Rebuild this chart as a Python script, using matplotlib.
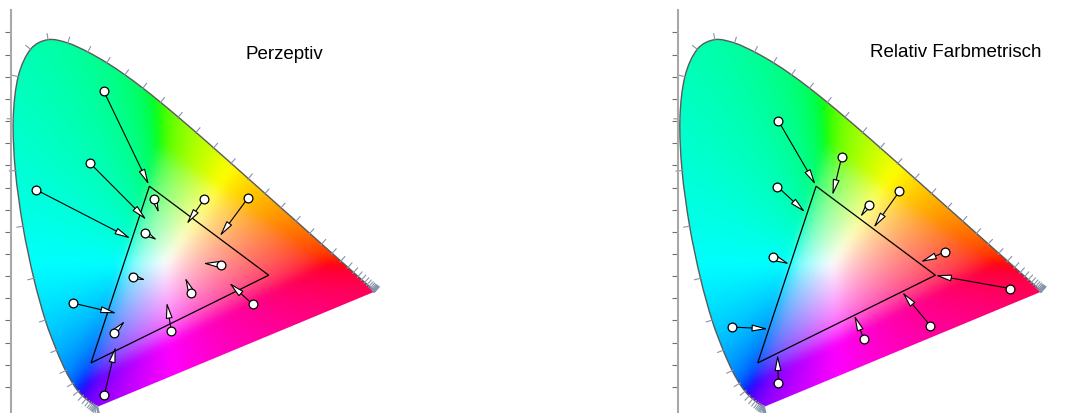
import numpy as np
import matplotlib.pyplot as plt
from matplotlib.path import Path
from matplotlib.patches import PathPatch

# CIE 1931 2-degree spectral locus, 380-700 nm in 5 nm steps
wavelengths = np.arange(380, 705, 5)
locus_x = [0.1741, 0.1740, 0.1738, 0.1736, 0.1733, 0.1730, 0.1726, 0.1721, 0.1714, 0.1703,
           0.1689, 0.1669, 0.1644, 0.1611, 0.1566, 0.1510, 0.1440, 0.1355, 0.1241, 0.1096,
           0.0913, 0.0687, 0.0454, 0.0235, 0.0082, 0.0039, 0.0139, 0.0389, 0.0743, 0.1142,
           0.1547, 0.1929, 0.2296, 0.2658, 0.3016, 0.3373, 0.3731, 0.4087, 0.4441, 0.4788,
           0.5125, 0.5448, 0.5752, 0.6029, 0.6270, 0.6482, 0.6658, 0.6801, 0.6915, 0.7006,
           0.7079, 0.7140, 0.7190, 0.7230, 0.7260, 0.7283, 0.7300, 0.7311, 0.7320, 0.7327,
           0.7334, 0.7340, 0.7344, 0.7346, 0.7347]
locus_y = [0.0050, 0.0050, 0.0049, 0.0049, 0.0048, 0.0048, 0.0048, 0.0048, 0.0051, 0.0058,
           0.0069, 0.0086, 0.0109, 0.0138, 0.0177, 0.0227, 0.0297, 0.0399, 0.0578, 0.0868,
           0.1327, 0.2007, 0.2950, 0.4127, 0.5384, 0.6548, 0.7502, 0.8120, 0.8338, 0.8262,
           0.8059, 0.7816, 0.7543, 0.7243, 0.6923, 0.6589, 0.6245, 0.5896, 0.5547, 0.5202,
           0.4866, 0.4544, 0.4242, 0.3965, 0.3725, 0.3514, 0.3340, 0.3197, 0.3083, 0.2993,
           0.2920, 0.2859, 0.2809, 0.2770, 0.2740, 0.2717, 0.2700, 0.2689, 0.2680, 0.2673,
           0.2666, 0.2660, 0.2656, 0.2654, 0.2653]

# output device gamut (triangle)
gamut_x = [0.279, 0.520, 0.161]
gamut_y = [0.503, 0.302, 0.104]

# perceptual mapping: source colour -> mapped colour
perc_src_x = [0.187, 0.159, 0.050, 0.289, 0.390, 0.478, 0.271, 0.423, 0.245, 0.364, 0.488, 0.125, 0.323, 0.207, 0.188]
perc_src_y = [0.717, 0.555, 0.495, 0.474, 0.474, 0.476, 0.397, 0.326, 0.299, 0.263, 0.236, 0.239, 0.177, 0.172, 0.032]
perc_dst_x = [0.278, 0.273, 0.241, 0.298, 0.354, 0.421, 0.295, 0.387, 0.272, 0.351, 0.440, 0.213, 0.314, 0.230, 0.211]
perc_dst_y = [0.506, 0.427, 0.385, 0.442, 0.417, 0.390, 0.381, 0.329, 0.291, 0.297, 0.285, 0.216, 0.241, 0.199, 0.141]

# relative colorimetric mapping: clipped onto the gamut border
rel_src_x = [0.203, 0.331, 0.201, 0.385, 0.447, 0.539, 0.191, 0.671, 0.110, 0.510, 0.376, 0.203]
rel_src_y = [0.650, 0.570, 0.502, 0.460, 0.491, 0.354, 0.343, 0.272, 0.185, 0.188, 0.157, 0.058]
rel_dst_x = [0.278, 0.312, 0.257, 0.368, 0.395, 0.490, 0.225, 0.520, 0.182, 0.453, 0.356, 0.201]
rel_dst_y = [0.506, 0.482, 0.444, 0.433, 0.409, 0.332, 0.327, 0.302, 0.181, 0.264, 0.212, 0.123]

SX, SY = 495.0, 443.0   # pixels per unit x / y
XMAX, YMIN, YMAX = 0.8, -0.009, 0.9
W, H = 1065, 414


def smooth_locus_path(closed=False):
    # Catmull-Rom through the locus points, as cubic Bezier segments
    p = np.column_stack([locus_x, locus_y])
    ext = np.vstack([p[0], p, p[-1]])
    verts = [p[0]]
    codes = [Path.MOVETO]
    for i in range(len(p) - 1):
        p0, p1, p2, p3 = ext[i], ext[i + 1], ext[i + 2], ext[i + 3]
        verts += [p1 + (p2 - p0) / 6, p2 - (p3 - p1) / 6, p2]
        codes += [Path.CURVE4] * 3
    if closed:
        verts += [p[0], p[0]]
        codes += [Path.LINETO, Path.CLOSEPOLY]
    return Path(np.array(verts), codes)


def blur(img, sigma):
    r = int(3 * sigma)
    k = np.exp(-0.5 * (np.arange(-r, r + 1) / sigma) ** 2)
    k /= k.sum()
    out = img.copy()
    for axis in (0, 1):
        pad = [(0, 0)] * 3
        pad[axis] = (r, r)
        padded = np.pad(out, pad, mode='edge')
        out = np.apply_along_axis(lambda v: np.convolve(v, k, mode='valid'), axis, padded)
    return out


def chromaticity_image(nx=400, ny=440):
    xs = np.linspace(0.0, XMAX, nx)
    ys = np.linspace(0.001, YMAX, ny)
    xx, yy = np.meshgrid(xs, ys)
    X = xx / yy
    Y = np.ones_like(xx)
    Z = (1 - xx - yy) / yy
    M = np.array([[3.2406, -1.5372, -0.4986],
                  [-0.9689, 1.8758, 0.0415],
                  [0.0557, -0.2040, 1.0570]])
    rgb = np.einsum('ij,jkl->kli', M, np.stack([X, Y, Z]))
    # push out-of-gamut colours towards white, then scale to full brightness
    lo = np.minimum(rgb.min(axis=2, keepdims=True), 0)
    rgb = rgb - lo
    rgb = rgb / rgb.max(axis=2, keepdims=True)
    rgb = np.where(rgb <= 0.0031308, 12.92 * rgb, 1.055 * rgb ** (1 / 2.4) - 0.055)
    return np.clip(blur(rgb, 5), 0, 1)


COLORS = chromaticity_image()


def draw_panel(ax, src_x, src_y, dst_x, dst_y):
    ax.set_xlim(0, XMAX)
    ax.set_ylim(YMIN, YMAX)
    for s in ['top', 'right', 'bottom']:
        ax.spines[s].set_visible(False)
    ax.spines['left'].set_color('#a8a8a8')
    ax.spines['left'].set_linewidth(1.5)
    ax.set_xticks([])
    ax.set_yticks(np.arange(0.05, 0.9, 0.05))
    ax.set_yticklabels([])
    ax.tick_params(axis='y', direction='out', length=4, width=0.8, color='#707070')
    ax.patch.set_alpha(0)

    shape = PathPatch(smooth_locus_path(closed=True), facecolor='none',
                      edgecolor='none', transform=ax.transData)
    ax.add_patch(shape)
    im = ax.imshow(COLORS, extent=(0, XMAX, 0.001, YMAX), origin='lower',
                   aspect='auto', interpolation='bilinear', zorder=1)
    im.set_clip_path(shape)

    ax.add_patch(PathPatch(smooth_locus_path(), facecolor='none',
                           edgecolor='#5a5a5a', lw=1.0, zorder=2))

    # wavelength ticks, pointing outwards
    px = np.array(locus_x) * SX
    py = np.array(locus_y) * SY
    tx, ty = np.gradient(px), np.gradient(py)
    norm = np.hypot(tx, ty)
    nx_, ny_ = ty / norm, -tx / norm
    cx, cy = 0.33 * SX, 0.33 * SY
    flip = (px - cx) * nx_ + (py - cy) * ny_ < 0
    nx_[flip] *= -1
    ny_[flip] *= -1
    for i in range(len(px)):
        ax.plot([locus_x[i] - nx_[i] * 1 / SX, locus_x[i] + nx_[i] * 6 / SX],
                [locus_y[i] - ny_[i] * 1 / SY, locus_y[i] + ny_[i] * 6 / SY],
                color='#8494ac', lw=0.8, zorder=2, clip_on=False)

    ax.fill(gamut_x, gamut_y, facecolor='none', edgecolor='black', lw=0.9, zorder=3)

    for x0, y0, x1, y1 in zip(src_x, src_y, dst_x, dst_y):
        ax.annotate('', xy=(x1, y1), xytext=(x0, y0), zorder=4,
                    arrowprops=dict(arrowstyle='-|>,head_length=1.2,head_width=0.26',
                                    fc='white', ec='black', lw=0.8,
                                    shrinkA=0, shrinkB=0, mutation_scale=8))
    ax.scatter(src_x, src_y, s=40, c='white', edgecolors='black', linewidths=0.9, zorder=5)


fig = plt.figure(figsize=(W / 100, H / 100), dpi=100)
ax_h = (YMAX - YMIN) * SY / H
ax1 = fig.add_axes([11.3 / W, 0, XMAX * SX / W, ax_h])
ax2 = fig.add_axes([678 / W, 0, XMAX * SX / W, ax_h])

draw_panel(ax1, perc_src_x, perc_src_y, perc_dst_x, perc_dst_y)
draw_panel(ax2, rel_src_x, rel_src_y, rel_dst_x, rel_dst_y)

fig.text(284 / W, 1 - 59 / H, 'Perzeptiv', ha='center', va='baseline',
         fontsize=13.5, family='Liberation Sans')
fig.text(956 / W, 1 - 57 / H, 'Relativ Farbmetrisch', ha='center', va='baseline',
         fontsize=13.5, family='Liberation Sans')

fig.savefig('out.png', dpi=100)
